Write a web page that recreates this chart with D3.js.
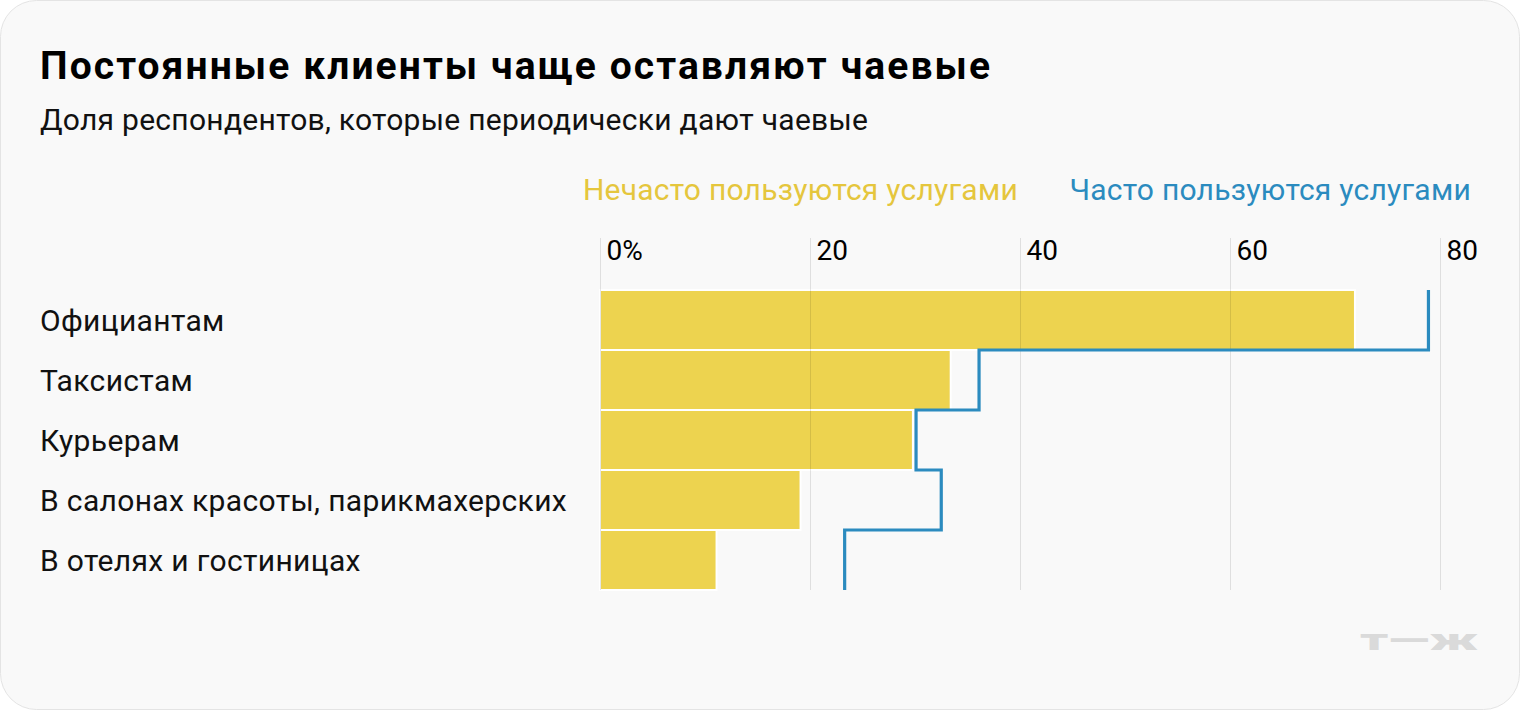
<!DOCTYPE html>
<html>
<head>
<meta charset="utf-8">
<script src="https://cdn.jsdelivr.net/npm/d3@7"></script>
<style>
  html, body { margin: 0; padding: 0; background: #ffffff; }
  svg { display: block; font-family: Roboto, "Noto Sans", sans-serif; }
</style>
</head>
<body>
<div id="chart"></div>
<script>
// Data
var categories = ["Официантам", "Таксистам", "Курьерам", "В салонах красоты, парикмахерских", "В отелях и гостиницах"];
var rareValues = [71.9, 33.4, 29.8, 19.1, 11.1];     // Нечасто пользуются услугами
var frequentValues = [78.9, 36.1, 30.1, 32.5, 23.3]; // Часто пользуются услугами
var tickValues = [0, 20, 40, 60, 80];
var seriesNames = ["Нечасто пользуются услугами", "Часто пользуются услугами"];

var svgWidth = 1520;
var svgHeight = 710;

var svg = d3.select("#chart")
  .append("svg")
  .attr("width", svgWidth)
  .attr("height", svgHeight);

// card background
svg.append("rect")
  .attr("x", 0.5).attr("y", 0.5)
  .attr("width", svgWidth - 1).attr("height", svgHeight - 1)
  .attr("rx", 36).attr("ry", 36)
  .attr("fill", "#f9f9f9")
  .attr("stroke", "#e4e4e4");

// title + subtitle
svg.append("text")
  .attr("x", 40).attr("y", 79)
  .attr("font-size", 39).attr("font-weight", 700)
  .attr("fill", "#000")
  .attr("textLength", 950)
  .text("Постоянные клиенты чаще оставляют чаевые");

svg.append("text")
  .attr("x", 40).attr("y", 130)
  .attr("font-size", 30)
  .attr("fill", "#111")
  .attr("textLength", 828)
  .text("Доля респондентов, которые периодически дают чаевые");

// legend
svg.append("text")
  .attr("x", 1018).attr("y", 200)
  .attr("text-anchor", "end")
  .attr("font-size", 30)
  .attr("letter-spacing", 0.25)
  .attr("fill", "#e5c63d")
  .text(seriesNames[0]);

svg.append("text")
  .attr("x", 1471).attr("y", 200)
  .attr("text-anchor", "end")
  .attr("font-size", 30)
  .attr("letter-spacing", 0.25)
  .attr("fill", "#2b8bbf")
  .text(seriesNames[1]);

// scales
var x = d3.scaleLinear().domain([0, 80]).range([600, 1440]);
var y = d3.scaleBand().domain(categories).range([290, 590]).padding(0);

// bars
svg.append("g").selectAll("rect")
  .data(categories)
  .enter()
  .append("rect")
  .attr("x", x(0))
  .attr("y", d => y(d))
  .attr("width", (d, i) => x(rareValues[i]) - x(0))
  .attr("height", y.bandwidth())
  .attr("fill", "#edd34f")
  .attr("stroke", "#ffffff")
  .attr("stroke-width", 2);

// grid + tick labels
var axis = d3.axisBottom(x)
  .tickValues(tickValues)
  .tickSize(590 - 238)
  .tickFormat(d => d === 0 ? "0%" : d);

var axisG = svg.append("g")
  .attr("transform", "translate(0,238)")
  .call(axis);
axisG.select(".domain").remove();
axisG.selectAll(".tick line")
  .attr("stroke", "#000")
  .attr("stroke-opacity", 0.1);
axisG.selectAll(".tick text")
  .attr("x", 6).attr("y", 22).attr("dy", 0)
  .attr("text-anchor", "start")
  .attr("font-size", 28)
  .attr("font-family", "Roboto, sans-serif")
  .attr("fill", "#000");

// step line for frequent clients
var stepPoints = [];
categories.forEach(function(c, i) {
  stepPoints.push([x(frequentValues[i]), y(c)]);
  stepPoints.push([x(frequentValues[i]), y(c) + y.bandwidth()]);
});
svg.append("path")
  .attr("d", d3.line()(stepPoints))
  .attr("fill", "none")
  .attr("stroke", "#2b8bbf")
  .attr("stroke-width", 3.2);

// category labels
svg.append("g").selectAll("text")
  .data(categories)
  .enter()
  .append("text")
  .attr("x", 40)
  .attr("y", d => y(d) + y.bandwidth() / 2)
  .attr("dy", "0.35em")
  .attr("font-size", 30)
  .attr("letter-spacing", 0.35)
  .attr("fill", "#111")
  .text(d => d);

// logo
svg.append("text")
  .attr("x", 1360).attr("y", 650)
  .attr("font-size", 30).attr("font-weight", 900)
  .attr("fill", "#dadada")
  .attr("textLength", 118)
  .attr("lengthAdjust", "spacingAndGlyphs")
  .text("т—ж");
</script>
</body>
</html>
